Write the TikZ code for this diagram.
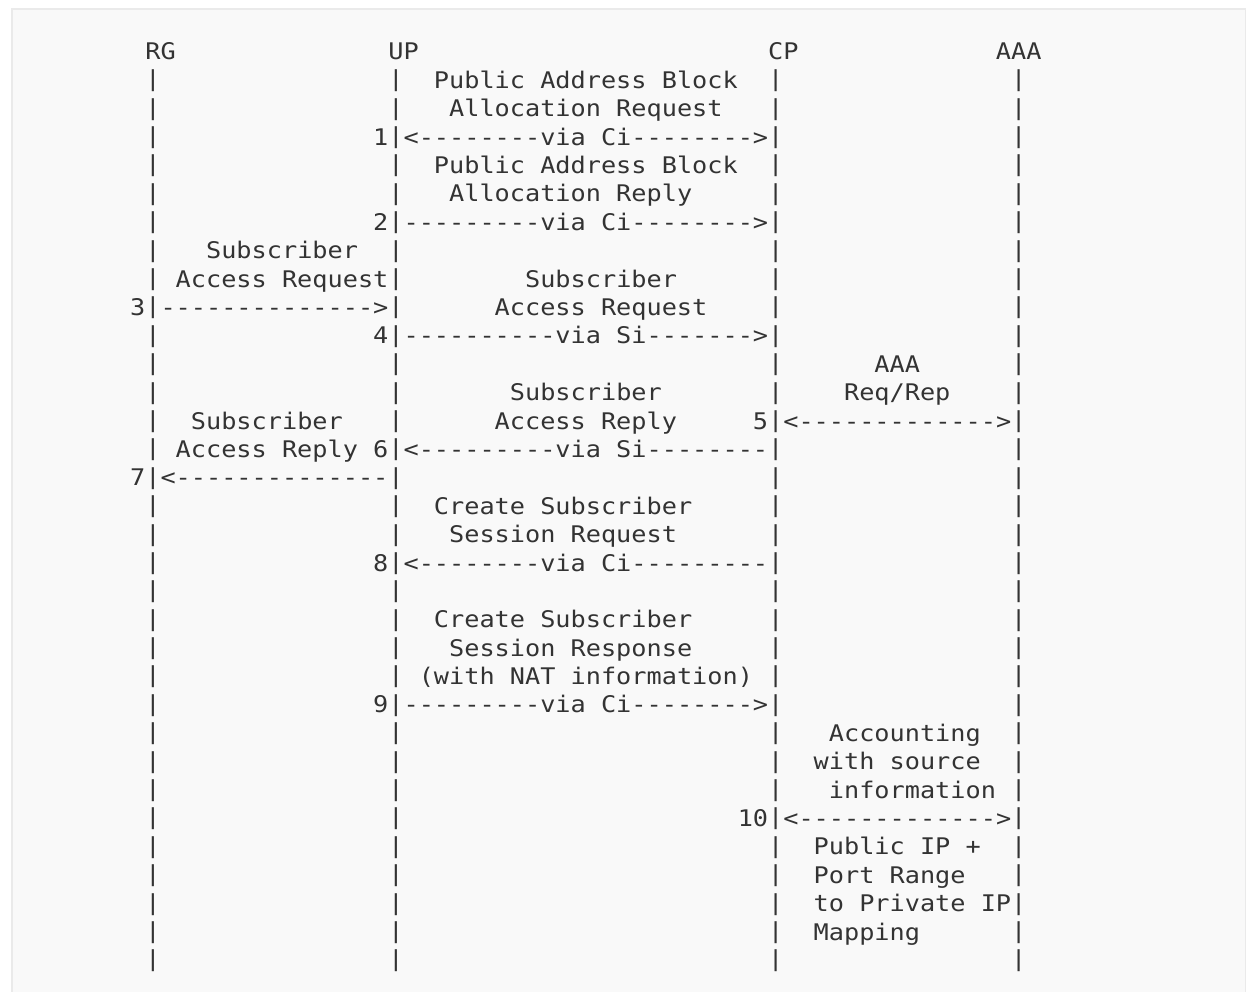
\documentclass[tikz,border=0pt]{standalone}
\usepackage{fontspec}
\usepackage{graphicx}
\setmonofont{DejaVu Sans Mono}[FakeStretch=1.102]
\definecolor{ink}{HTML}{333333}
\definecolor{panel}{HTML}{F9F9F9}
\definecolor{edge}{HTML}{EAEAEA}
\newcommand\monotext{\ttfamily\fontsize{22.9}{28}\selectfont}
\newcommand\tok[4]{\node[txt] (#1) at ({54.2+15.19*#2},{60+28.39*#3}) {\spaceskip=15.19pt\relax\xspaceskip=15.19pt\relax #4};}
\begin{document}
\begin{tikzpicture}[x=1pt,y=-1pt,
  txt/.style={anchor=base west,inner sep=0pt,outer sep=0pt,text=ink,font=\monotext},
  barglyph/.style={anchor=center,inner sep=0pt,outer sep=0pt,text=ink,font=\monotext}]
\useasboundingbox (0,0) rectangle (1246,992);
\fill[white] (0,0) rectangle (1246,992);
\fill[panel] (12,9) rectangle (1246,992);
\draw[edge,line width=2pt] (12,992) -- (12,9) -- (1246,9);
\draw[edge,line width=1pt] (1245.5,9) -- (1245.5,992);
% lifelines: one bar character per text line
\foreach \li in {1,...,32}{
  \foreach \lc/\ln in {6/rg,22/up,47/cp,63/aaa}{
    \node[barglyph] (\ln\li) at ({54.2+15.19*\lc+7.6},{60+28.39*\li-7.4}) {\resizebox*{15.19pt}{22pt}{|}};
  }
}
% header
\tok{hRG}{6}{0}{RG}
\tok{hUP}{22}{0}{UP}
\tok{hCP}{47}{0}{CP}
\tok{hAAA}{62}{0}{AAA}
% message 1
\tok{m1a}{25}{1}{Public Address Block}
\tok{m1b}{26}{2}{Allocation Request}
\tok{n1}{21}{3}{1}
\tok{a1}{23}{3}{<--------via Ci-------->}
% message 2
\tok{m2a}{25}{4}{Public Address Block}
\tok{m2b}{26}{5}{Allocation Reply}
\tok{n2}{21}{6}{2}
\tok{a2}{23}{6}{---------via Ci-------->}
% message 3
\tok{m3a}{10}{7}{Subscriber}
\tok{m3b}{8}{8}{Access Request}
\tok{n3}{5}{9}{3}
\tok{a3}{7}{9}{-------------->}
% message 4
\tok{m4a}{31}{8}{Subscriber}
\tok{m4b}{29}{9}{Access Request}
\tok{n4}{21}{10}{4}
\tok{a4}{23}{10}{----------via Si------->}
% message 5
\tok{m5a}{54}{11}{AAA}
\tok{m5b}{52}{12}{Req/Rep}
\tok{n5}{46}{13}{5}
\tok{a5}{48}{13}{<------------->}
% message 6
\tok{m6a}{30}{12}{Subscriber}
\tok{m6b}{29}{13}{Access Reply}
\tok{n6}{21}{14}{6}
\tok{a6}{23}{14}{<---------via Si--------}
% message 7
\tok{m7a}{9}{13}{Subscriber}
\tok{m7b}{8}{14}{Access Reply}
\tok{n7}{5}{15}{7}
\tok{a7}{7}{15}{<--------------}
% message 8
\tok{m8a}{25}{16}{Create Subscriber}
\tok{m8b}{26}{17}{Session Request}
\tok{n8}{21}{18}{8}
\tok{a8}{23}{18}{<--------via Ci---------}
% message 9
\tok{m9a}{25}{20}{Create Subscriber}
\tok{m9b}{26}{21}{Session Response}
\tok{m9c}{24}{22}{(with NAT information)}
\tok{n9}{21}{23}{9}
\tok{a9}{23}{23}{---------via Ci-------->}
% message 10
\tok{m10a}{51}{24}{Accounting}
\tok{m10b}{50}{25}{with source}
\tok{m10c}{51}{26}{information}
\tok{n10}{45}{27}{10}
\tok{a10}{48}{27}{<------------->}
\tok{m10d}{50}{28}{Public IP +}
\tok{m10e}{50}{29}{Port Range}
\tok{m10f}{50}{30}{to Private IP}
\tok{m10g}{50}{31}{Mapping}
\end{tikzpicture}
\end{document}
